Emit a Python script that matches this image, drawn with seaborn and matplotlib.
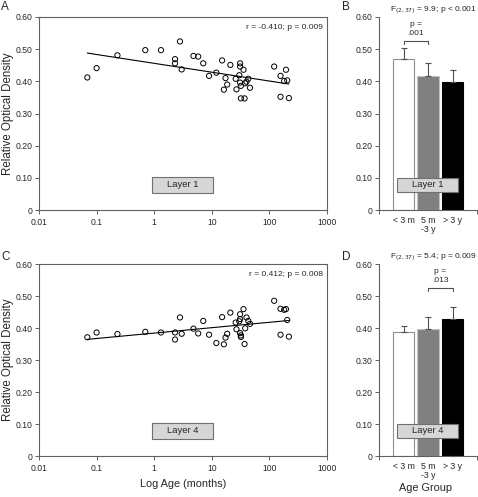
import matplotlib

matplotlib.use("Agg")
import matplotlib.pyplot as plt
import numpy as np
import pandas as pd
import seaborn as sns
from matplotlib.patches import Rectangle

# ages (months) shared by both layers
AGE = [0.069, 0.1, 0.23, 0.70, 1.31, 2.3, 2.3, 2.8, 3.0, 4.8,
       5.8, 7.1, 8.96, 12, 15.1, 16.2, 17.3, 18.5, 21, 26.8,
       26, 31, 31, 30, 31, 32, 32, 35.5, 37, 38,
       40, 43, 46, 121, 156, 156, 194, 180, 204, 218]
OD_L1 = [0.412, 0.441, 0.481, 0.497, 0.497, 0.469, 0.456, 0.524, 0.437, 0.479,
         0.477, 0.456, 0.417, 0.427, 0.465, 0.374, 0.410, 0.390, 0.451, 0.375,
         0.408, 0.456, 0.446, 0.419, 0.396, 0.347, 0.386, 0.436, 0.347, 0.394,
         0.399, 0.408, 0.380, 0.446, 0.417, 0.352, 0.436, 0.401, 0.403, 0.348]
OD_L4 = [0.371, 0.386, 0.381, 0.388, 0.386, 0.386, 0.364, 0.433, 0.382, 0.398,
         0.383, 0.422, 0.379, 0.353, 0.434, 0.349, 0.370, 0.382, 0.448, 0.396,
         0.417, 0.443, 0.428, 0.421, 0.384, 0.377, 0.372, 0.459, 0.350, 0.399,
         0.433, 0.422, 0.413, 0.485, 0.460, 0.379, 0.459, 0.457, 0.425, 0.373]

GROUPS = ["< 3 m", "5 m\n-3 y", "> 3 y"]
MEAN_L1 = [0.468, 0.418, 0.399]
SE_L1 = [0.036, 0.040, 0.035]
MEAN_L4 = [0.387, 0.398, 0.428]
SE_L4 = [0.018, 0.036, 0.037]
BAR_COLORS = ["#ffffff", "#808080", "#000000"]
BAR_EDGES = ["#909090", "#c0c0c0", "#000000"]

YTICKS = [0, 0.1, 0.2, 0.3, 0.4, 0.5, 0.6]
YTICKLABELS = ["0", "0.10", "0.20", "0.30", "0.40", "0.50", "0.60"]
XTICKS = [0.01, 0.1, 1, 10, 100, 1000]
XTICKLABELS = ["0.01", "0.1", "1", "10", "100", "1000"]

sns.set_style("ticks")
plt.rcParams["font.family"] = ["Liberation Sans", "DejaVu Sans"]

W, H = 478, 497
fig = plt.figure(figsize=(W / 100, H / 100), dpi=100)


def px_axes(left, top, right, bottom):
    return fig.add_axes([left / W, 1 - bottom / H, (right - left) / W, (bottom - top) / H])


AX_COLOR = "#606060"


def layer_box(ax, x0, x1, y0, y1, label):
    ax.add_patch(Rectangle((x0, y0), x1 - x0, y1 - y0, transform=ax.transAxes,
                           fc="#d6d6d6", ec="#707070", lw=0.8, zorder=5))
    ax.text((x0 + x1) / 2, (y0 + y1) / 2, label, transform=ax.transAxes,
            ha="center", va="center", fontsize=6.8, zorder=6)


def style_y(ax):
    ax.set_ylim(0, 0.6)
    ax.set_yticks(YTICKS)
    ax.set_yticklabels(YTICKLABELS)
    ax.tick_params(axis="both", labelsize=6.2, length=3, width=0.7, color=AX_COLOR)
    ax.tick_params(axis="y", pad=1.5)
    ax.tick_params(axis="x", pad=2.5)


def scatter_panel(ax, od, txt, layer):
    df = pd.DataFrame({"age": AGE, "od": od})
    sns.scatterplot(data=df, x="age", y="od", ax=ax, marker="o", s=14,
                    facecolor="none", edgecolor="black", linewidth=0.7, legend=False)
    sns.regplot(data=df, x="age", y="od", ax=ax, logx=True, scatter=False, ci=None,
                line_kws=dict(color="black", lw=0.8))
    ax.set_xscale("log")
    ax.set_xlim(0.01, 1000)
    ax.set_xticks(XTICKS)
    ax.set_xticklabels(XTICKLABELS)
    ax.minorticks_off()
    style_y(ax)
    for s in ax.spines.values():
        s.set_color(AX_COLOR)
        s.set_linewidth(0.8)
    ax.set_xlabel("")
    ax.set_ylabel("Relative Optical Density", fontsize=8.3)
    ax.yaxis.set_label_coords(-0.086, 0.5)
    ax.text(0.985, 0.945, txt, transform=ax.transAxes, ha="right", va="center", fontsize=6)
    layer_box(ax, 0.392, 0.604, 0.09, 0.172, layer)


def bar_panel(ax, means, ses, ftxt, ptxt, pair, layer):
    df = pd.DataFrame({"group": GROUPS, "mean": means})
    sns.barplot(data=df, x="group", y="mean", ax=ax, width=0.86, errorbar=None,
                palette=BAR_COLORS, hue="group", legend=False, linewidth=0.8)
    for patch, ec in zip(ax.patches, BAR_EDGES):
        patch.set_edgecolor(ec)
    ax.errorbar(range(3), means, yerr=[np.zeros(3), ses], fmt="none",
                ecolor="#505050", elinewidth=0.8, capsize=2.5, capthick=0.8)
    ax.set_xlim(-1, 3)
    style_y(ax)
    ax.set_xticks([0, 1, 2])
    ax.set_xticklabels(GROUPS, fontsize=6.3, linespacing=1.0)
    ax.tick_params(axis="x", length=0, pad=4)
    ax.set_xticks([-1, 3], minor=True)
    ax.tick_params(axis="x", which="minor", length=3, width=0.7, color=AX_COLOR)
    sns.despine(ax=ax)
    for s in ("left", "bottom"):
        ax.spines[s].set_color(AX_COLOR)
        ax.spines[s].set_linewidth(0.8)
    ax.set_xlabel("")
    ax.set_ylabel("")
    ax.text(1.0, 1.038, ftxt, transform=ax.transAxes, ha="right", va="center", fontsize=6)
    a, b = pair
    ybr = 0.525
    ax.plot([a, a, b, b], [ybr - 0.008, ybr, ybr, ybr - 0.008], color="#505050", lw=0.8,
            clip_on=False)
    ax.text((a + b) / 2, ybr + 0.014, ptxt, ha="center", va="bottom", fontsize=6,
            linespacing=1.3)
    layer_box(ax, 0.184, 0.806, 0.093, 0.168, layer)


axA = px_axes(39, 17, 327, 210)
axB = px_axes(379, 17, 477, 210)
axC = px_axes(39, 264, 327, 456)
axD = px_axes(379, 264, 477, 456)

scatter_panel(axA, OD_L1, "r = -0.410; p = 0.009", "Layer 1")
scatter_panel(axC, OD_L4, "r = 0.412; p = 0.008", "Layer 4")
bar_panel(axB, MEAN_L1, SE_L1, r"F$_{(2,37)}$ = 9.9; p < 0.001", "p =\n.001", (0, 1), "Layer 1")
bar_panel(axD, MEAN_L4, SE_L4, r"F$_{(2,37)}$ = 5.4; p = 0.009", "p =\n.013", (1, 2), "Layer 4")

axC.set_xlabel("Log Age (months)", fontsize=7.8)
axC.xaxis.set_label_coords(0.5, -0.12)
axD.set_xlabel("Age Group", fontsize=7.8)
axD.xaxis.set_label_coords(0.47, -0.14)

for lbl, (x, y) in zip("ABCD", [(1, 1), (342, 1), (1, 251), (342, 251)]):
    fig.text(x / W, 1 - y / H, lbl, ha="left", va="top", fontsize=8.5)

fig.savefig("out.png", dpi=100)
